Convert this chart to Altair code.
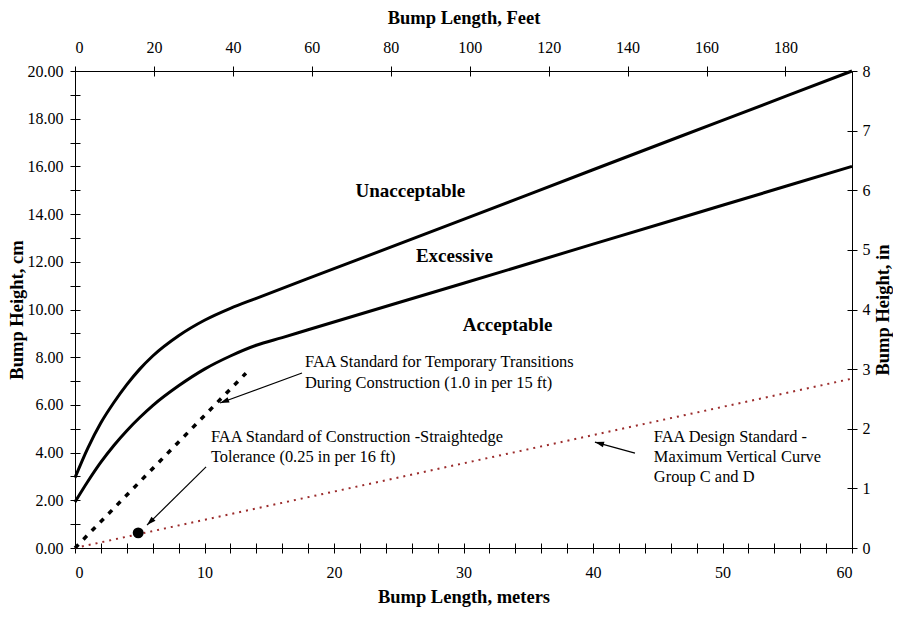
import math
import altair as alt
import pandas as pd

# ---------------- data ----------------
upper_x = [0, 1, 2, 3, 4, 5, 6, 8, 10, 12, 14, 20, 30, 40, 50, 60]
upper_y = [2.95, 4.2, 5.25, 6.1, 6.85, 7.5, 8.05, 8.9, 9.55, 10.05, 10.47, 11.71, 13.78, 15.86, 17.93, 20.0]

lower_x = [0, 1, 2, 3, 4, 5, 6, 8, 10, 12, 14, 16, 18, 30, 40, 50, 60]
lower_y = [1.93, 2.8, 3.6, 4.3, 4.92, 5.47, 5.97, 6.8, 7.5, 8.05, 8.5, 8.82, 9.15, 11.1, 12.74, 14.37, 16.0]

temp_x = [0, 13.2]          # 1.0 in per 15 ft
temp_y = [0, 7.33]

design_x = [0, 60]          # FAA design standard, max vertical curve
design_y = [0, 7.1]

straight_x = [4.88]         # 0.25 in per 16 ft
straight_y = [0.635]

region_labels = ["Unacceptable", "Excessive", "Acceptable"]
region_x = [25.9, 29.3, 33.4]
region_y = [14.97, 12.24, 9.35]

note_lines = [
    "FAA Standard for Temporary Transitions",
    "During Construction (1.0 in per 15 ft)",
    "FAA Standard of Construction -Straightedge",
    "Tolerance (0.25 in per 16 ft)",
    "FAA Design Standard -",
    "Maximum Vertical Curve",
    "Group C and D",
]
note_x = [17.76, 17.76, 10.5, 10.5, 44.7, 44.7, 44.7]
note_y = [7.80, 6.92, 4.65, 3.82, 4.65, 3.82, 2.98]

arrow_x1 = [17.53, 10.12, 43.24]
arrow_y1 = [7.34, 3.40, 3.98]
arrow_x2 = [11.2, 5.56, 40.15]
arrow_y2 = [6.08, 0.96, 4.44]

feet_max = 60 / 0.3048
inch_max = 8

W, H = 777, 477
FONT = "Liberation Serif"

# ---------------- axes ----------------
common = dict(grid=False, domainColor="black", tickColor="black", labelColor="black",
              titleColor="black", labelFont=FONT, titleFont=FONT, labelFontSize=16,
              titleFontSize=18.5, titleFontWeight="bold", tickSize=5, labelOverlap=False)

ax_bottom = alt.Axis(orient="bottom", values=list(range(0, 61, 2)),
                     labelExpr="datum.value % 10 == 0 ? format(datum.value, 'd') : ''",
                     title="Bump Length, meters", labelPadding=11, titlePadding=7, **common)
ax_left = alt.Axis(orient="left", values=list(range(0, 21)),
                   labelExpr="datum.value % 2 == 0 ? format(datum.value, '.2f') : ''",
                   title="Bump Height, cm", labelPadding=7, titlePadding=1, **common)
ax_top = alt.Axis(orient="top", values=list(range(0, 181, 20)), format="d",
                  title="Bump Length, Feet", labelPadding=11, titlePadding=12, **common)
ax_right = alt.Axis(orient="right", values=list(range(0, 9)), format="d",
                    title="Bump Height, in", titleAngle=270, titleBaseline="top",
                    labelPadding=5, titlePadding=3, **common)

inner = dict(grid=False, domain=False, labels=False, title=None, tickColor="black", tickSize=5)
ax_in_bottom = alt.Axis(orient="top", offset=-H, values=list(range(0, 61, 2)), **inner)
ax_in_left = alt.Axis(orient="right", offset=-W, values=list(range(0, 21)), **inner)
ax_in_top = alt.Axis(orient="bottom", offset=-H, values=list(range(0, 181, 20)), **inner)
ax_in_right = alt.Axis(orient="left", offset=-W, values=list(range(0, 9)), **inner)

xs_m = alt.Scale(domain=[0, 60], nice=False, zero=True)
ys_cm = alt.Scale(domain=[0, 20], nice=False, zero=True)
xs_ft = alt.Scale(domain=[0, feet_max], nice=False, zero=True)
ys_in = alt.Scale(domain=[0, inch_max], nice=False, zero=True)


def X(field="x"):
    return alt.X(f"{field}:Q", scale=xs_m, axis=ax_bottom)


def Y(field="y"):
    return alt.Y(f"{field}:Q", scale=ys_cm, axis=ax_left)


# ---------------- main layer ----------------
df_upper = pd.DataFrame({"x": upper_x, "y": upper_y})
df_lower = pd.DataFrame({"x": lower_x, "y": lower_y})
df_temp = pd.DataFrame({"x": temp_x, "y": temp_y})
df_design = pd.DataFrame({"x": design_x, "y": design_y})
df_pt = pd.DataFrame({"x": straight_x, "y": straight_y})
df_reg = pd.DataFrame({"x": region_x, "y": region_y, "t": region_labels})
df_note = pd.DataFrame({"x": note_x, "y": note_y, "t": note_lines})

angles = []
for x1, y1, x2, y2 in zip(arrow_x1, arrow_y1, arrow_x2, arrow_y2):
    dxp = (x2 - x1) * W / 60
    dyp = -(y2 - y1) * H / 20
    angles.append(math.degrees(math.atan2(dxp, -dyp)) % 360)
df_arrow = pd.DataFrame({"x": arrow_x1, "y": arrow_y1, "x2": arrow_x2, "y2": arrow_y2, "a": angles})

upper = alt.Chart(df_upper).mark_line(color="black", strokeWidth=3, interpolate="monotone").encode(x=X(), y=Y())
lower = alt.Chart(df_lower).mark_line(color="black", strokeWidth=3, interpolate="monotone").encode(x=X(), y=Y())
temp = alt.Chart(df_temp).mark_line(color="black", strokeWidth=3.5, strokeDash=[5, 7]).encode(x=X(), y=Y())
design = alt.Chart(df_design).mark_line(color="#9b2b2b", strokeWidth=2, strokeDash=[2, 5]).encode(x=X(), y=Y())
pt = alt.Chart(df_pt).mark_point(filled=True, color="black", size=120, opacity=1).encode(x=X(), y=Y())

arrow_lines = alt.Chart(df_arrow).mark_rule(color="black", strokeWidth=1.2).encode(
    x=X(), y=Y(), x2="x2:Q", y2="y2:Q")
arrow_heads = alt.Chart(df_arrow).mark_point(
    shape="M0,0L-0.32,1L0.32,1Z", filled=True, color="black", size=330, opacity=1
).encode(x=X("x2"), y=Y("y2"), angle=alt.Angle("a:Q", scale=None))

regions = alt.Chart(df_reg).mark_text(font=FONT, fontSize=19, fontWeight="bold", color="black",
                                      align="center", baseline="middle").encode(x=X(), y=Y(), text="t:N")
notes = alt.Chart(df_note).mark_text(font=FONT, fontSize=16.4, color="black",
                                     align="left", baseline="middle").encode(x=X(), y=Y(), text="t:N")

main = alt.layer(design, temp, lower, upper, pt, arrow_lines, arrow_heads, regions, notes)

# ---------------- secondary axes ----------------
df_ax = pd.DataFrame({"m": [0, 60], "cm": [0, 20], "f": [0, feet_max], "i": [0, inch_max]})

sec = alt.Chart(df_ax).mark_point(opacity=0).encode(
    x=alt.X("f:Q", scale=xs_ft, axis=ax_top), y=alt.Y("i:Q", scale=ys_in, axis=ax_right))
in1 = alt.Chart(df_ax).mark_point(opacity=0).encode(
    x=alt.X("m:Q", scale=xs_m, axis=ax_in_bottom), y=alt.Y("cm:Q", scale=ys_cm, axis=ax_in_left))
in2 = alt.Chart(df_ax).mark_point(opacity=0).encode(
    x=alt.X("f:Q", scale=xs_ft, axis=ax_in_top), y=alt.Y("i:Q", scale=ys_in, axis=ax_in_right))

chart = alt.layer(main, sec, in1, in2).resolve_scale(x="independent", y="independent").properties(
    width=W, height=H,
    autosize=alt.AutoSizeParams(type="none"),
    padding={"left": 67, "top": 63, "right": 41, "bottom": 61},
    background="white",
).configure_view(stroke=None)

chart.save("out.html", embed_options={"renderer": "svg", "actions": False})
